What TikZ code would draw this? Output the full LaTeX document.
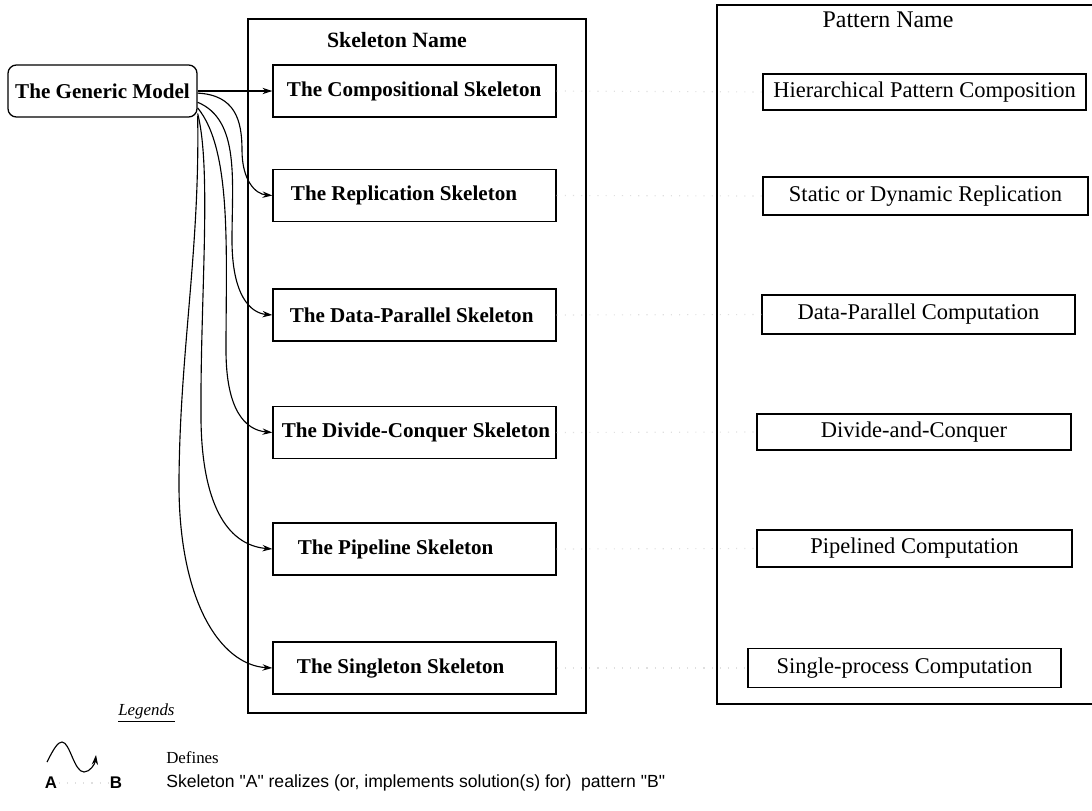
\documentclass[tikz,border=0pt]{standalone}
\usepackage{fontspec}
\setmainfont{Liberation Serif}
\setsansfont{Liberation Sans}
% sans family without TeX quote mapping, so " stays straight
\newfontfamily\legsans{Liberation Sans}[Ligatures=TeXOff]
\usetikzlibrary{arrows.meta}
% left-aligned label inside a skeleton box: #1 = left padding
\newcommand\skeltext[2]{\makebox[7.075cm][l]{\hspace*{#1}#2}}
\begin{document}
\begin{tikzpicture}[x=0.025cm,y=-0.025cm,
  frame/.style={line width=0.9pt},
  boxfont/.style={font=\fontsize{15}{18}\selectfont\bfseries},
  patfont/.style={font=\fontsize{16}{18}\selectfont},
  generic/.style={draw, line width=0.9pt, rounded corners=6pt, minimum width=4.725cm,
    minimum height=1.3cm, inner sep=0pt, boxfont},
  skel/.style={draw, line width=0.9pt, minimum width=7.075cm, minimum height=1.3cm,
    inner sep=0pt, boxfont},
  pat/.style={draw, line width=0.9pt, inner sep=0pt, patfont},
  defines/.style={line width=0.8pt, -{Stealth[length=7pt,width=4.5pt]}},
  realizes/.style={gray!25, line width=0.8pt, dash pattern=on 0.8pt off 5pt},
  legtext/.style={anchor=west, inner sep=0pt},
]
\useasboundingbox (0,0) rectangle (1092,810);

% column frames
\draw[frame] (248,19) rectangle (586,713);
\node[font=\fontsize{15.5}{18}\selectfont\bfseries] (skt) at (397,40) {Skeleton Name};
\draw[frame] (1096,5) -- (717,5) -- (717,704) -- (1096,704);
\node[font=\fontsize{17}{18}\selectfont] (ptt) at (888,20) {Pattern Name};

% the generic model
\node[generic] (gm) at (102.5,91) {The Generic Model};

% skeletons
\node[skel] (s1) at (414.5,91)    {\skeltext{0.35cm}{The Compositional Skeleton}};
\node[skel] (s2) at (414.5,195.5) {\skeltext{0.45cm}{The Replication Skeleton}};
\node[skel] (s3) at (414.5,315)   {\skeltext{0.42cm}{The Data-Parallel Skeleton}};
\node[skel] (s4) at (414.5,432.5) {\skeltext{0.22cm}{The Divide-Conquer Skeleton}};
\node[skel] (s5) at (414.5,549)   {\skeltext{0.62cm}{The Pipeline Skeleton}};
\node[skel] (s6) at (414.5,668)   {\skeltext{0.6cm}{The Singleton Skeleton}};

% patterns
\node[pat, minimum width=8.075cm, minimum height=0.9cm]   (p1) at (924.5,92)    {Hierarchical Pattern Composition};
\node[pat, minimum width=8.125cm, minimum height=0.95cm]  (p2) at (925.5,196)   {Static or Dynamic Replication};
\node[pat, minimum width=7.825cm, minimum height=0.975cm] (p3) at (918.5,314.5) {Data-Parallel Computation};
\node[pat, minimum width=7.85cm,  minimum height=0.9cm]   (p4) at (914,432)     {Divide-and-Conquer};
\node[pat, minimum width=7.875cm, minimum height=0.925cm] (p5) at (914.5,548.5) {Pipelined Computation};
\node[pat, minimum width=7.825cm, minimum height=0.975cm] (p6) at (904.5,668)   {Single-process Computation};

% realization links
\foreach \i in {1,...,6} \draw[realizes] (s\i.east) -- (p\i.west);

% definition links
\draw[defines] (gm.east) -- (s1.west);
\draw[defines] ([yshift=-1.5pt]gm.east) .. controls (235,95) and (242,120) .. (242,150)
  .. controls (242,180) and (255,194) .. (s2.west);
\draw[defines] ([yshift=-8pt]gm.east) .. controls (240,120) and (232,180) .. (232,240)
  .. controls (232,295) and (250,313) .. (s3.west);
\draw[defines] ([yshift=-12pt]gm.east) .. controls (232,150) and (226,250) .. (226,350)
  .. controls (226,410) and (245,430) .. (s4.west);
\draw[defines] ([yshift=-16pt]gm.east) .. controls (212,170) and (200,300) .. (201,420)
  .. controls (202,500) and (225,545) .. (s5.west);
\draw[defines] ([yshift=-17.5pt]gm.east) .. controls (200,250) and (180,350) .. (179,480)
  .. controls (178,600) and (220,665) .. (s6.west);

% legend
\node[legtext, font=\fontsize{12}{14}\selectfont\itshape] (leg) at (118,713) {\underline{Legends}};
\coordinate (w0) at (47,762);
\coordinate (w1) at (96,755);
\draw[defines] (w0) .. controls (54,748) and (58,742) .. (62,742)
  .. controls (70,742) and (74,772) .. (84,772)
  .. controls (90,772) and (95,764) .. (w1);
\node[legtext, font=\fontsize{12}{14}\selectfont] (ldef) at (166,758) {Defines};
\node[font=\fontsize{12}{14}\selectfont\sffamily\bfseries, inner sep=1pt] (la) at (51,783) {A};
\node[font=\fontsize{12}{14}\selectfont\sffamily\bfseries, inner sep=1pt] (lb) at (116,783) {B};
\draw[realizes] (la) -- (lb);
\node[legtext, font=\fontsize{12.5}{14}\selectfont\legsans] (lreal) at (166,783)
  {Skeleton "A" realizes (or, implements solution(s) for)~ pattern "B"};
\end{tikzpicture}
\end{document}
